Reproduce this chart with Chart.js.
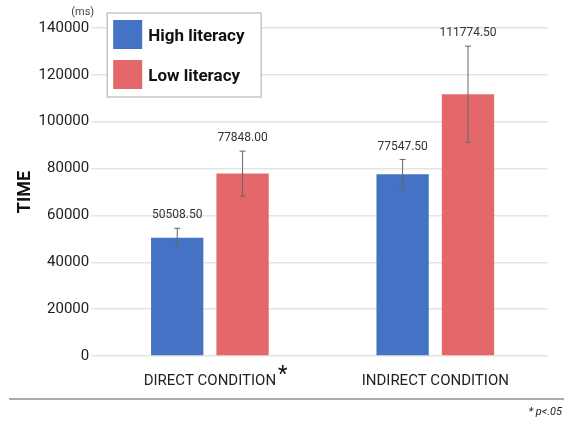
<!DOCTYPE html>
<html>
<head>
<meta charset="utf-8">
<script src="https://cdn.jsdelivr.net/npm/chart.js@4"></script>
<style>
  html, body { margin: 0; padding: 0; background: #fff; }
  #wrap { width: 564px; height: 422px; position: relative; }
</style>
</head>
<body>
<div id="wrap"><canvas id="timeChart"></canvas></div>
<script>
// Données
const conditions = ['DIRECT CONDITION', 'INDIRECT CONDITION'];
const highLiteracy = [50508.5, 77547.5];
const lowLiteracy = [77848.0, 111774.5];
const highErr = [4000, 6300];
const lowErr = [9600, 20500];
const yTicks = [0, 20000, 40000, 60000, 80000, 100000, 120000, 140000];

const BLUE = '#4472c4';
const RED = '#e46869';
const FONT = 'Roboto, "DejaVu Sans", sans-serif';

// Barres d'erreur + étiquettes de valeur
const errorBars = {
    id: 'errorBars',
    afterDatasetsDraw(chart) {
        const ctx = chart.ctx;
        const y = chart.scales.y;
        chart.data.datasets.forEach(function (ds, i) {
            const meta = chart.getDatasetMeta(i);
            meta.data.forEach(function (bar, j) {
                const v = ds.data[j];
                const e = ds.errors[j];
                const top = y.getPixelForValue(v + e);
                const bot = y.getPixelForValue(v - e);
                ctx.save();
                ctx.strokeStyle = '#666';
                ctx.lineWidth = 1;
                ctx.beginPath();
                ctx.moveTo(bar.x, top); ctx.lineTo(bar.x, bot);
                ctx.moveTo(bar.x - 3, top); ctx.lineTo(bar.x + 3, top);
                ctx.moveTo(bar.x - 3, bot); ctx.lineTo(bar.x + 3, bot);
                ctx.stroke();
                ctx.fillStyle = '#333';
                ctx.font = '12px ' + FONT;
                ctx.textAlign = 'center';
                ctx.textBaseline = 'bottom';
                ctx.fillText(v.toFixed(2), bar.x, top - 7);
                ctx.restore();
            });
        });
    }
};

// Légende, unité, astérisque et note
const extras = {
    id: 'extras',
    afterDraw(chart) {
        const ctx = chart.ctx;
        const area = chart.chartArea;
        ctx.save();

        // légende dans la zone du graphique
        const lx = area.left + 10, ly = area.top - 15;
        ctx.fillStyle = '#fff';
        ctx.fillRect(lx, ly, 154, 84);
        ctx.strokeStyle = '#c6c6c6';
        ctx.lineWidth = 1.5;
        ctx.strokeRect(lx, ly, 154, 84);
        chart.data.datasets.forEach(function (ds, i) {
            const by = ly + 7 + i * 40;
            ctx.fillStyle = ds.backgroundColor;
            ctx.fillRect(lx + 6, by, 29, 29);
            ctx.fillStyle = '#111';
            ctx.font = 'bold 17px ' + FONT;
            ctx.textAlign = 'left';
            ctx.textBaseline = 'middle';
            ctx.fillText(ds.label, lx + 41, by + 17);
        });

        // unité
        ctx.fillStyle = '#444';
        ctx.font = '11px ' + FONT;
        ctx.textAlign = 'right';
        ctx.textBaseline = 'bottom';
        ctx.fillText('(ms)', area.left - 3, area.top - 10);

        // astérisque après DIRECT CONDITION
        const x = chart.scales.x;
        ctx.font = '15px ' + FONT;
        const w = ctx.measureText(conditions[0]).width;
        ctx.fillStyle = '#111';
        ctx.font = '22px ' + FONT;
        ctx.textAlign = 'left';
        ctx.textBaseline = 'middle';
        ctx.fillText('*', x.getPixelForTick(0) + w / 2 + 2, area.bottom + 19);

        // ligne et note de bas
        const H = chart.height, W = chart.width;
        ctx.strokeStyle = '#aaa';
        ctx.lineWidth = 2;
        ctx.beginPath();
        ctx.moveTo(9, H - 23); ctx.lineTo(W, H - 23);
        ctx.stroke();
        ctx.fillStyle = '#222';
        ctx.font = 'italic 11px ' + FONT;
        ctx.textAlign = 'right';
        ctx.textBaseline = 'middle';
        ctx.fillText('* p<.05', W - 2, H - 10);
        ctx.restore();
    }
};

new Chart(document.getElementById('timeChart'), {
    type: 'bar',
    data: {
        labels: conditions,
        datasets: [{
            label: 'High literacy',
            data: highLiteracy,
            errors: highErr,
            backgroundColor: BLUE
        }, {
            label: 'Low literacy',
            data: lowLiteracy,
            errors: lowErr,
            backgroundColor: RED
        }]
    },
    options: {
        responsive: true,
        maintainAspectRatio: false,
        animation: false,
        categoryPercentage: 0.58,
        barPercentage: 0.8,
        layout: { padding: { left: 15, right: 16, top: 28, bottom: 24 } },
        plugins: {
            legend: { display: false },
            tooltip: { enabled: false }
        },
        scales: {
            x: {
                grid: { display: false },
                border: { display: false },
                ticks: { color: '#222', font: { family: FONT, size: 15 }, padding: 8 }
            },
            y: {
                min: 0,
                max: 140000,
                afterBuildTicks(axis) {
                    axis.ticks = yTicks.map(function (v) { return { value: v }; });
                },
                grid: { color: '#e4e4e4', lineWidth: 1.5, tickLength: 6 },
                border: { display: false },
                ticks: {
                    color: '#222',
                    font: { family: FONT, size: 15 },
                    padding: 2,
                    callback: function (v) { return String(v); }
                },
                title: {
                    display: true,
                    text: 'TIME',
                    color: '#111',
                    font: { family: FONT, size: 18, weight: 'bold' },
                    padding: 0
                }
            }
        }
    },
    plugins: [errorBars, extras]
});
</script>
</body>
</html>
